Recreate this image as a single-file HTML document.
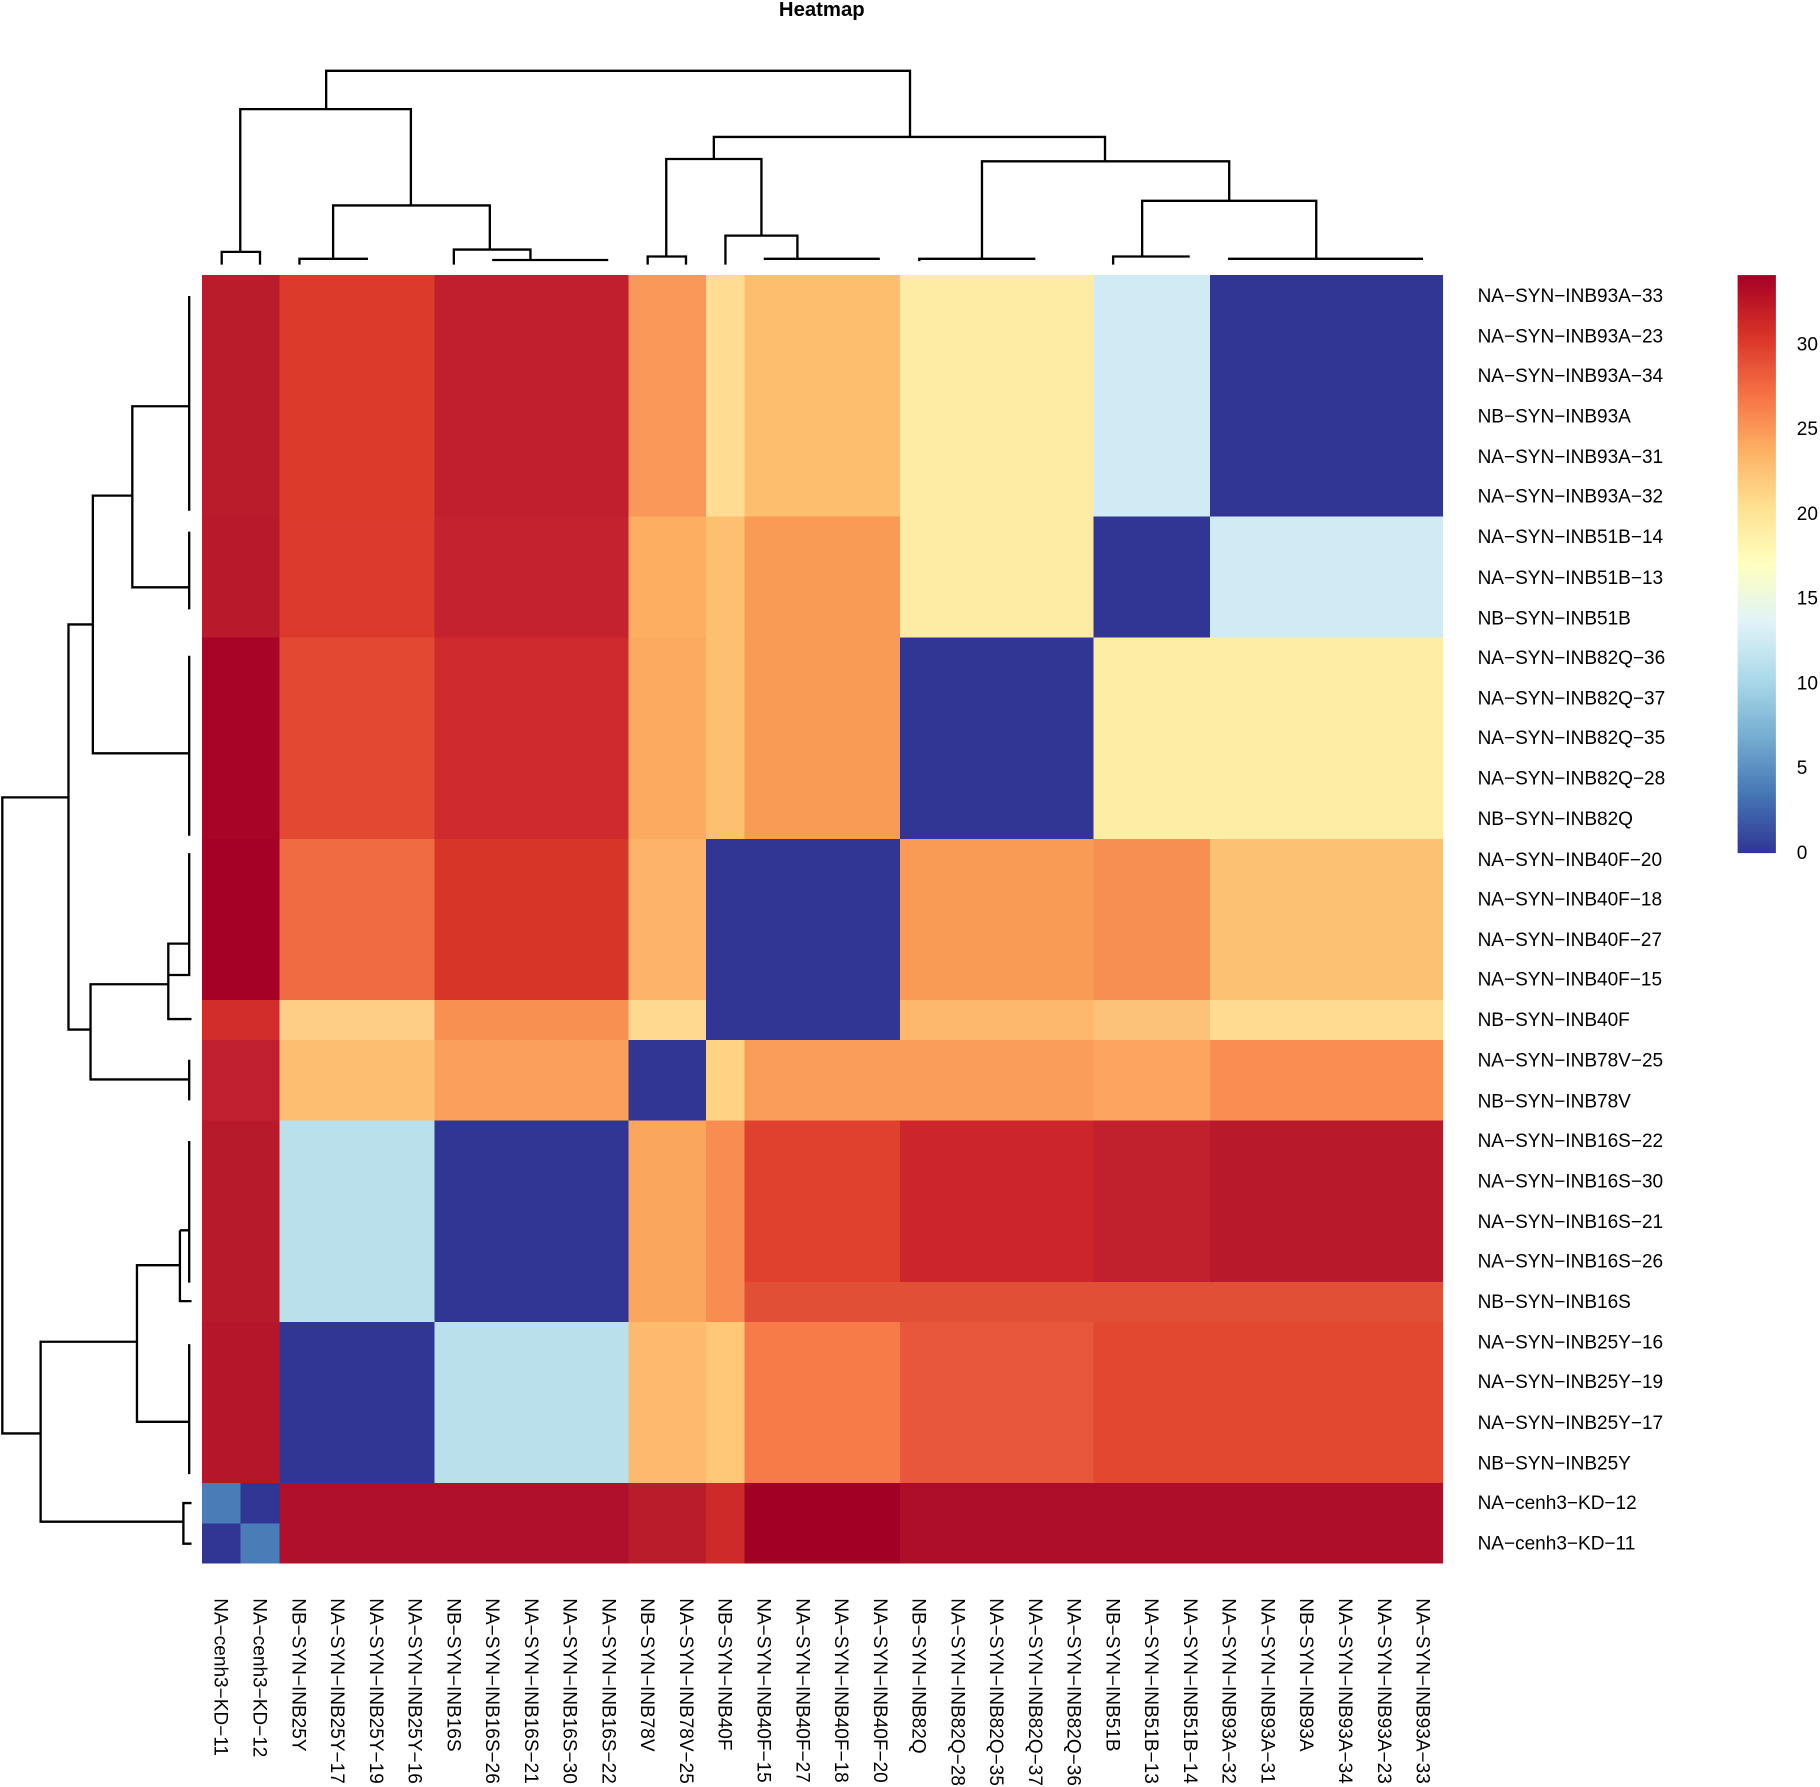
<!DOCTYPE html>
<html><head><meta charset="utf-8"><style>html,body{margin:0;padding:0;background:#fff}svg{display:block}</style></head>
<body>
<svg width="1820" height="1787" viewBox="0 0 1568 1539.6" preserveAspectRatio="none" xmlns="http://www.w3.org/2000/svg" font-family="Liberation Sans, sans-serif">
<defs>
<linearGradient id="lg" x1="0" y1="1" x2="0" y2="0">
<stop offset="0" stop-color="#313695"/><stop offset="0.1" stop-color="#4575b4"/><stop offset="0.2" stop-color="#74add1"/><stop offset="0.3" stop-color="#abd9e9"/><stop offset="0.4" stop-color="#e0f3f8"/><stop offset="0.5" stop-color="#ffffbf"/><stop offset="0.6" stop-color="#fee090"/><stop offset="0.7" stop-color="#fdae61"/><stop offset="0.8" stop-color="#f46d43"/><stop offset="0.9" stop-color="#d73027"/><stop offset="1" stop-color="#a50026"/>
</linearGradient>
</defs>
<text x="708" y="14" font-size="17.5" font-weight="bold" text-anchor="middle">Heatmap</text>
<g shape-rendering="crispEdges">
<rect x="174" y="237" width="66.8" height="208.1" fill="#bb1c2c"/>
<rect x="240.8" y="237" width="133.6" height="208.1" fill="#dc3b2c"/>
<rect x="374.4" y="237" width="167" height="208.1" fill="#c11f2d"/>
<rect x="541.4" y="237" width="66.8" height="208.1" fill="#f99858"/>
<rect x="608.2" y="237" width="167" height="208.1" fill="#fdbe6e"/>
<rect x="608.2" y="237" width="33.4" height="208.1" fill="#fedc92"/>
<rect x="775.2" y="237" width="167" height="208.1" fill="#feeca4"/>
<rect x="942.2" y="237" width="100.2" height="208.1" fill="#d1ebf4"/>
<rect x="1042.4" y="237" width="200.6" height="208.1" fill="#313695"/>
<rect x="174" y="445.1" width="66.8" height="104.1" fill="#b8192b"/>
<rect x="240.8" y="445.1" width="133.6" height="104.1" fill="#dc3a2c"/>
<rect x="374.4" y="445.1" width="167" height="104.1" fill="#c3222e"/>
<rect x="541.4" y="445.1" width="66.8" height="104.1" fill="#fdae61"/>
<rect x="608.2" y="445.1" width="167" height="104.1" fill="#f99a55"/>
<rect x="608.2" y="445.1" width="33.4" height="104.1" fill="#fdc070"/>
<rect x="775.2" y="445.1" width="167" height="104.1" fill="#feeca5"/>
<rect x="942.2" y="445.1" width="100.2" height="104.1" fill="#313695"/>
<rect x="1042.4" y="445.1" width="200.6" height="104.1" fill="#d1ebf4"/>
<rect x="174" y="549.2" width="66.8" height="173.5" fill="#a80427"/>
<rect x="240.8" y="549.2" width="133.6" height="173.5" fill="#e24832"/>
<rect x="374.4" y="549.2" width="167" height="173.5" fill="#cf2a2d"/>
<rect x="541.4" y="549.2" width="66.8" height="173.5" fill="#fbaa60"/>
<rect x="608.2" y="549.2" width="167" height="173.5" fill="#f99a55"/>
<rect x="608.2" y="549.2" width="33.4" height="173.5" fill="#fdbf70"/>
<rect x="775.2" y="549.2" width="167" height="173.5" fill="#313695"/>
<rect x="942.2" y="549.2" width="300.8" height="173.5" fill="#feeda5"/>
<rect x="174" y="722.7" width="66.8" height="138.7" fill="#a50026"/>
<rect x="240.8" y="722.7" width="133.6" height="138.7" fill="#f16b42"/>
<rect x="374.4" y="722.7" width="167" height="138.7" fill="#d83529"/>
<rect x="541.4" y="722.7" width="66.8" height="138.7" fill="#fdb468"/>
<rect x="608.2" y="722.7" width="167" height="173.4" fill="#313695"/>
<rect x="775.2" y="722.7" width="167" height="138.7" fill="#f99a55"/>
<rect x="942.2" y="722.7" width="100.2" height="138.7" fill="#f88f52"/>
<rect x="1042.4" y="722.7" width="200.6" height="138.7" fill="#fdc174"/>
<rect x="174" y="861.4" width="66.8" height="34.7" fill="#d22d2a"/>
<rect x="240.8" y="861.4" width="133.6" height="34.7" fill="#fece86"/>
<rect x="374.4" y="861.4" width="167" height="34.7" fill="#f8904f"/>
<rect x="541.4" y="861.4" width="66.8" height="34.7" fill="#fed98f"/>
<rect x="775.2" y="861.4" width="167" height="34.7" fill="#fdb86b"/>
<rect x="942.2" y="861.4" width="100.2" height="34.7" fill="#fdc27a"/>
<rect x="1042.4" y="861.4" width="200.6" height="34.7" fill="#fedb90"/>
<rect x="174" y="896.1" width="66.8" height="69.4" fill="#c0202f"/>
<rect x="240.8" y="896.1" width="133.6" height="69.4" fill="#fdbe70"/>
<rect x="374.4" y="896.1" width="167" height="69.4" fill="#fba05a"/>
<rect x="541.4" y="896.1" width="66.8" height="69.4" fill="#313695"/>
<rect x="608.2" y="896.1" width="33.4" height="69.4" fill="#fed484"/>
<rect x="641.6" y="896.1" width="300.6" height="69.4" fill="#fa9d58"/>
<rect x="942.2" y="896.1" width="100.2" height="69.4" fill="#fba55f"/>
<rect x="1042.4" y="896.1" width="200.6" height="69.4" fill="#f88e52"/>
<rect x="174" y="965.5" width="66.8" height="173.5" fill="#b61a2b"/>
<rect x="240.8" y="965.5" width="133.6" height="173.5" fill="#bae0ec"/>
<rect x="374.4" y="965.5" width="167" height="173.5" fill="#313695"/>
<rect x="541.4" y="965.5" width="66.8" height="173.5" fill="#fba65d"/>
<rect x="608.2" y="965.5" width="33.4" height="173.5" fill="#f88d52"/>
<rect x="641.6" y="965.5" width="133.6" height="173.5" fill="#df412e"/>
<rect x="775.2" y="965.5" width="167" height="173.5" fill="#cc262c"/>
<rect x="942.2" y="965.5" width="100.2" height="173.5" fill="#c1202d"/>
<rect x="1042.4" y="965.5" width="200.6" height="173.5" fill="#b8192b"/>
<rect x="641.6" y="1104.3" width="601.4" height="34.7" fill="#e24f37"/>
<rect x="174" y="1139" width="66.8" height="138.8" fill="#b5162a"/>
<rect x="240.8" y="1139" width="133.6" height="138.8" fill="#313695"/>
<rect x="374.4" y="1139" width="167" height="138.8" fill="#bae0ec"/>
<rect x="541.4" y="1139" width="66.8" height="138.8" fill="#fdb96c"/>
<rect x="608.2" y="1139" width="33.4" height="138.8" fill="#fec877"/>
<rect x="641.6" y="1139" width="133.6" height="138.8" fill="#f67b48"/>
<rect x="775.2" y="1139" width="167" height="138.8" fill="#e8573b"/>
<rect x="942.2" y="1139" width="300.8" height="138.8" fill="#e2482f"/>
<rect x="174" y="1277.8" width="66.8" height="69.2" fill="#313695"/>
<rect x="174" y="1277.8" width="33.4" height="34.6" fill="#4a7cb8"/>
<rect x="207.4" y="1312.4" width="33.4" height="34.6" fill="#4a7cb8"/>
<rect x="240.8" y="1277.8" width="300.6" height="69.2" fill="#b0102a"/>
<rect x="541.4" y="1277.8" width="66.8" height="69.2" fill="#bb1c2c"/>
<rect x="608.2" y="1277.8" width="33.4" height="69.2" fill="#cd2a29"/>
<rect x="641.6" y="1277.8" width="133.6" height="69.2" fill="#a30026"/>
<rect x="775.2" y="1277.8" width="467.8" height="69.2" fill="#af0e29"/>
</g>
<g fill="none" stroke="#000" stroke-width="2">
<path d="M191 228V217H224V228"/>
<path d="M207 217V94H354V177"/>
<path d="M258 228V223H316V224M287 223V177H422V215"/>
<path d="M391 228V215H457V224M424 224H524"/>
<path d="M281 94V61H784V118"/>
<path d="M558 228V221H591V228M574 221V137H656V203"/>
<path d="M625 228V203H687V223M658 223H758"/>
<path d="M615 137V118H952V139"/>
<path d="M792 225V223H892M846 223V139H1059V173"/>
<path d="M959 228V221H1025M984 221V173H1134V223M1058 223H1226"/>
<path d="M163 255V440M163 458V525M163 565V720"/>
<path d="M163 350H114V506H163"/>
<path d="M114 427H80V649H163"/>
<path d="M80 538H59V887H78"/>
<path d="M163 735V840H145V813H163M145 813V878H165"/>
<path d="M145 848H78V930H163M163 913V948"/>
<path d="M59 687H2V1235H35"/>
<path d="M163 983V1105M155 1060H163M155 1060V1121H165M155 1090H118V1225H163M163 1158V1270"/>
<path d="M118 1156H35V1311H158V1295H165M158 1311V1330H165"/>
</g>
<g font-size="16.4" fill="#000">
<text x="1273" y="260">NA−SYN−INB93A−33</text>
<text x="1273" y="295">NA−SYN−INB93A−23</text>
<text x="1273" y="329">NA−SYN−INB93A−34</text>
<text x="1273" y="364">NB−SYN−INB93A</text>
<text x="1273" y="399">NA−SYN−INB93A−31</text>
<text x="1273" y="433">NA−SYN−INB93A−32</text>
<text x="1273" y="468">NA−SYN−INB51B−14</text>
<text x="1273" y="503">NA−SYN−INB51B−13</text>
<text x="1273" y="538">NB−SYN−INB51B</text>
<text x="1273" y="572">NA−SYN−INB82Q−36</text>
<text x="1273" y="607">NA−SYN−INB82Q−37</text>
<text x="1273" y="641">NA−SYN−INB82Q−35</text>
<text x="1273" y="676">NA−SYN−INB82Q−28</text>
<text x="1273" y="711">NB−SYN−INB82Q</text>
<text x="1273" y="746">NA−SYN−INB40F−20</text>
<text x="1273" y="780">NA−SYN−INB40F−18</text>
<text x="1273" y="815">NA−SYN−INB40F−27</text>
<text x="1273" y="849">NA−SYN−INB40F−15</text>
<text x="1273" y="884">NB−SYN−INB40F</text>
<text x="1273" y="919">NA−SYN−INB78V−25</text>
<text x="1273" y="954">NB−SYN−INB78V</text>
<text x="1273" y="988">NA−SYN−INB16S−22</text>
<text x="1273" y="1023">NA−SYN−INB16S−30</text>
<text x="1273" y="1058">NA−SYN−INB16S−21</text>
<text x="1273" y="1092">NA−SYN−INB16S−26</text>
<text x="1273" y="1127">NB−SYN−INB16S</text>
<text x="1273" y="1162">NA−SYN−INB25Y−16</text>
<text x="1273" y="1196">NA−SYN−INB25Y−19</text>
<text x="1273" y="1231">NA−SYN−INB25Y−17</text>
<text x="1273" y="1266">NB−SYN−INB25Y</text>
<text x="1273" y="1300">NA−cenh3−KD−12</text>
<text x="1273" y="1335">NA−cenh3−KD−11</text>
</g>
<g font-size="16.4" fill="#000">
<text transform="translate(185,1377) rotate(90)">NA−cenh3−KD−11</text>
<text transform="translate(218.4,1377) rotate(90)">NA−cenh3−KD−12</text>
<text transform="translate(251.8,1377) rotate(90)">NB−SYN−INB25Y</text>
<text transform="translate(285.2,1377) rotate(90)">NA−SYN−INB25Y−17</text>
<text transform="translate(318.6,1377) rotate(90)">NA−SYN−INB25Y−19</text>
<text transform="translate(352,1377) rotate(90)">NA−SYN−INB25Y−16</text>
<text transform="translate(385.4,1377) rotate(90)">NB−SYN−INB16S</text>
<text transform="translate(418.8,1377) rotate(90)">NA−SYN−INB16S−26</text>
<text transform="translate(452.2,1377) rotate(90)">NA−SYN−INB16S−21</text>
<text transform="translate(485.6,1377) rotate(90)">NA−SYN−INB16S−30</text>
<text transform="translate(519,1377) rotate(90)">NA−SYN−INB16S−22</text>
<text transform="translate(552.4,1377) rotate(90)">NB−SYN−INB78V</text>
<text transform="translate(585.8,1377) rotate(90)">NA−SYN−INB78V−25</text>
<text transform="translate(619.2,1377) rotate(90)">NB−SYN−INB40F</text>
<text transform="translate(652.6,1377) rotate(90)">NA−SYN−INB40F−15</text>
<text transform="translate(686,1377) rotate(90)">NA−SYN−INB40F−27</text>
<text transform="translate(719.4,1377) rotate(90)">NA−SYN−INB40F−18</text>
<text transform="translate(752.8,1377) rotate(90)">NA−SYN−INB40F−20</text>
<text transform="translate(786.2,1377) rotate(90)">NB−SYN−INB82Q</text>
<text transform="translate(819.6,1377) rotate(90)">NA−SYN−INB82Q−28</text>
<text transform="translate(853,1377) rotate(90)">NA−SYN−INB82Q−35</text>
<text transform="translate(886.4,1377) rotate(90)">NA−SYN−INB82Q−37</text>
<text transform="translate(919.8,1377) rotate(90)">NA−SYN−INB82Q−36</text>
<text transform="translate(953.2,1377) rotate(90)">NB−SYN−INB51B</text>
<text transform="translate(986.6,1377) rotate(90)">NA−SYN−INB51B−13</text>
<text transform="translate(1020,1377) rotate(90)">NA−SYN−INB51B−14</text>
<text transform="translate(1053.4,1377) rotate(90)">NA−SYN−INB93A−32</text>
<text transform="translate(1086.8,1377) rotate(90)">NA−SYN−INB93A−31</text>
<text transform="translate(1120.2,1377) rotate(90)">NB−SYN−INB93A</text>
<text transform="translate(1153.6,1377) rotate(90)">NA−SYN−INB93A−34</text>
<text transform="translate(1187,1377) rotate(90)">NA−SYN−INB93A−23</text>
<text transform="translate(1220.4,1377) rotate(90)">NA−SYN−INB93A−33</text>
</g>
<rect x="1497" y="237" width="33" height="498" fill="url(#lg)"/>
<g font-size="16.4" fill="#000">
<text x="1548" y="302">30</text>
<text x="1548" y="375">25</text>
<text x="1548" y="448">20</text>
<text x="1548" y="521">15</text>
<text x="1548" y="594">10</text>
<text x="1548" y="667">5</text>
<text x="1548" y="740">0</text>
</g>
</svg>
</body></html>
